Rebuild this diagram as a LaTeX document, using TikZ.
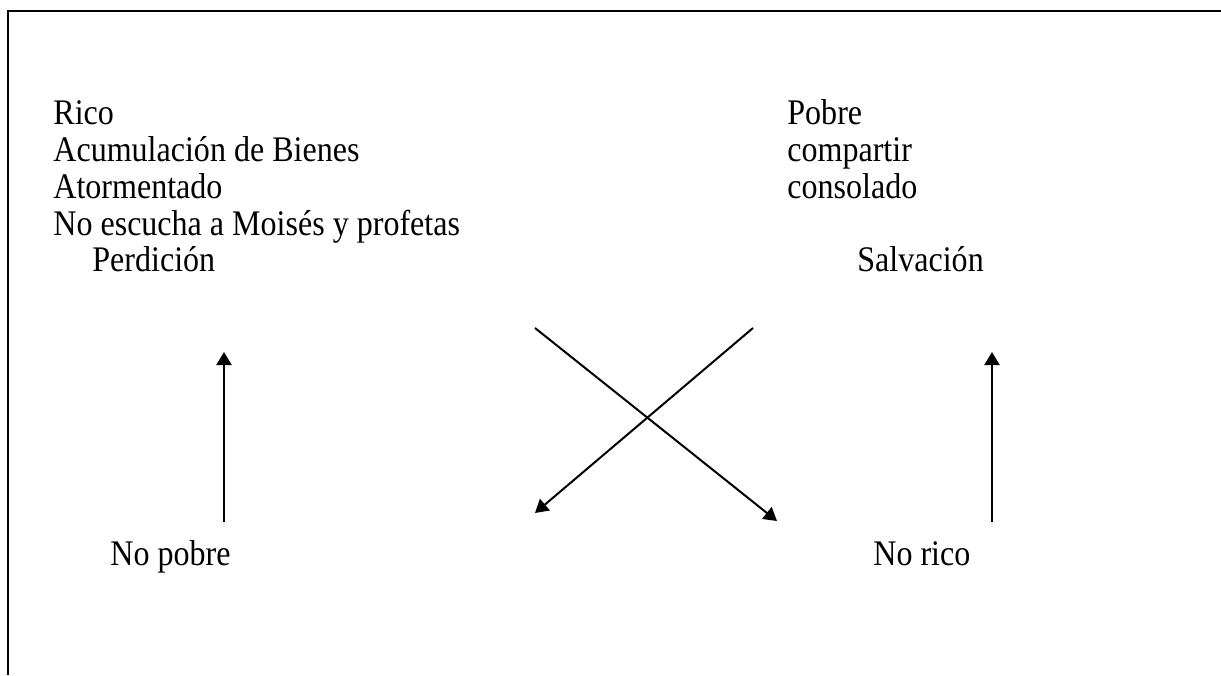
\documentclass[tikz,border=0pt]{standalone}
\usepackage{fontspec}
\setmainfont[FakeStretch=0.89]{Liberation Serif}
\usetikzlibrary{arrows.meta}

\begin{document}
\begin{tikzpicture}[x=0.5pt, y=-0.5pt,
    txt/.style={anchor=base west, inner sep=0pt, font=\fontsize{18}{20}\selectfont},
    arr/.style={-{Triangle[length=6.5pt, width=7.5pt]}, line width=1pt}]
    \useasboundingbox (0,0) rectangle (1221,675);

    % Frame
    \draw[line width=1pt] (8,675) -- (8,11) -- (1221,11);

    % Left column
    \node[txt] (rico) at (53,124) {Rico};
    \node[txt] (acum) at (53,161) {Acumulación de Bienes};
    \node[txt] (ator) at (53,198) {Atormentado};
    \node[txt] (noesc) at (53,235) {No escucha a Moisés y profetas};
    \node[txt] (perd) at (92,271) {Perdición};

    % Right column
    \node[txt] (pobre) at (787,124) {Pobre};
    \node[txt] (comp) at (787,161) {compartir};
    \node[txt] (cons) at (787,198) {consolado};
    \node[txt] (salv) at (857,271) {Salvación};

    % Bottom
    \node[txt] (nopobre) at (110,565) {No pobre};
    \node[txt] (norico) at (873,565) {No rico};

    % Arrow ends
    \coordinate (lft-lo) at (224,522);
    \coordinate (lft-hi) at (224,352);
    \coordinate (rgt-lo) at (992,522);
    \coordinate (rgt-hi) at (992,352);
    \coordinate (x-nw) at (535,328);
    \coordinate (x-se) at (777,521);
    \coordinate (x-ne) at (753,328);
    \coordinate (x-sw) at (535,513);

    % Arrows
    \draw[arr] (lft-lo) -- (lft-hi);
    \draw[arr] (rgt-lo) -- (rgt-hi);
    \draw[arr] (x-nw) -- (x-se);
    \draw[arr] (x-ne) -- (x-sw);
\end{tikzpicture}
\end{document}
